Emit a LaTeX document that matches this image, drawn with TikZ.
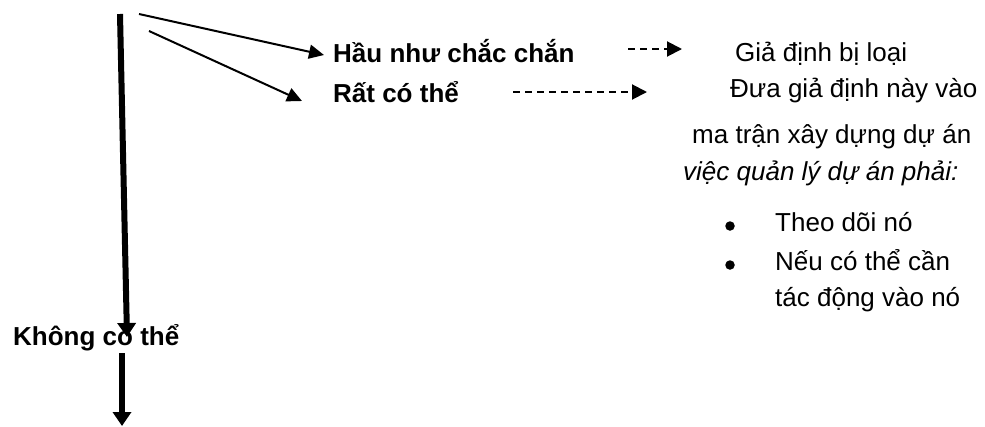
\documentclass[tikz,border=0pt]{standalone}
\usepackage{fontspec}
\setmainfont{Liberation Sans}
\usetikzlibrary{arrows.meta}
\tikzset{
  txt/.style={anchor=base west, inner sep=0pt, font=\fontsize{26}{30}\selectfont},
  btxt/.style={txt, font=\fontsize{26}{30}\selectfont\bfseries},
  itxt/.style={txt, font=\fontsize{26}{30}\selectfont\itshape},
  bulletdot/.style={circle, fill=black, inner sep=0pt, minimum size=9.5pt},
  brancharrow/.style={line width=2pt, -{Triangle[length=15pt,width=14pt]}},
  dashedarrow/.style={line width=2pt, dash pattern=on 7pt off 5pt, -{Triangle[length=15pt,width=15pt]}},
  mainarrow/.style={line width=6pt, -{Triangle[length=14pt,width=18pt]}}
}
\begin{document}
\begin{tikzpicture}[x=1pt,y=-1pt]
\useasboundingbox (0,0) rectangle (985,426);

% labels of the three branches
\node[btxt] (hau) at (333,62) {Hầu như chắc chắn};
\node[btxt] (rat) at (333,102) {Rất có thể};
\node[btxt] (khong) at (13,345) {Không có thể};

% consequences
\node[txt] (gia) at (735,61) {Giả định bị loại};
\node[txt] (dua) at (730,97) {Đưa giả định này vào};
\node[txt] (matran) at (692,143) {ma trận xây dựng dự án};
\node[itxt] (viec) at (683,180) {việc quản lý dự án phải:};
\node[bulletdot] (b1) at (730,226) {};
\node[txt] (theo) at (775,231) {Theo dõi nó};
\node[bulletdot] (b2) at (730,265) {};
\node[txt] (neu) at (775,270) {Nếu có thể cần};
\node[txt] (tac) at (775,306) {tác động vào nó};

% connector end points
\coordinate (vtop) at (120,14);
\coordinate (vmid) at (127,337);
\coordinate (vlow) at (122,353);
\coordinate (vend) at (122,426);
\coordinate (s1) at (139,14);
\coordinate (e1) at (324,55);
\coordinate (s2) at (149,31);
\coordinate (e2) at (302,101);
\coordinate (d1s) at (628,49);
\coordinate (d1e) at (682,49);
\coordinate (d2s) at (513,92);
\coordinate (d2e) at (647,92);

% main vertical arrows
\draw[mainarrow] (vtop) -- (vmid);
\draw[mainarrow] (vlow) -- (vend);

% branch arrows
\draw[brancharrow] (s1) -- (e1);
\draw[brancharrow] (s2) -- (e2);

% dashed arrows towards the consequences
\draw[dashedarrow] (d1s) -- (d1e);
\draw[dashedarrow] (d2s) -- (d2e);
\end{tikzpicture}
\end{document}
